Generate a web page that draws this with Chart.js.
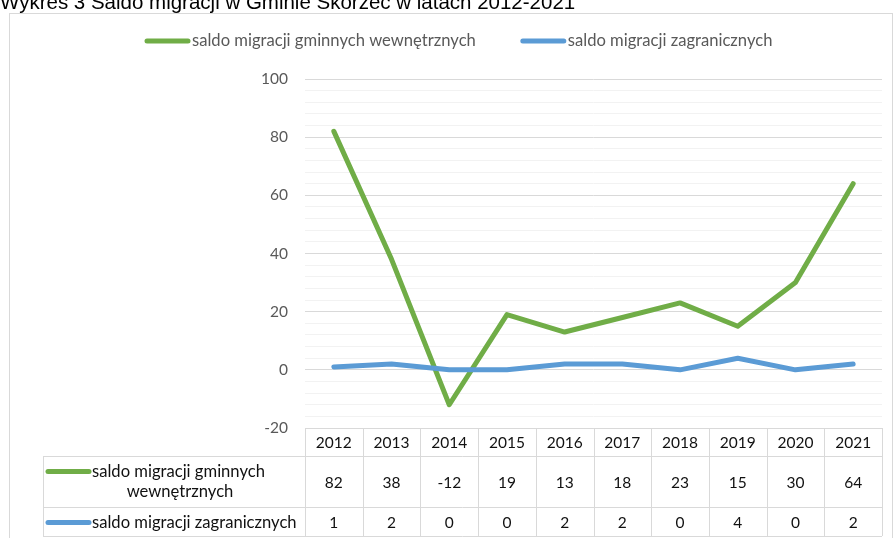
<!DOCTYPE html>
<html>
<head>
<meta charset="utf-8">
<script src="https://cdn.jsdelivr.net/npm/chart.js@4.4.0/dist/chart.umd.min.js"></script>
<style>
  html, body { margin: 0; padding: 0; background: #fff; }
  #wrap { width: 894px; height: 538px; overflow: hidden; }
</style>
</head>
<body>
<div id="wrap"><canvas id="chart" width="894" height="538"></canvas></div>
<script>
const chartTitle = 'Wykres 3 Saldo migracji w Gminie Skórzec w latach 2012-2021';
const years = ['2012', '2013', '2014', '2015', '2016', '2017', '2018', '2019', '2020', '2021'];
const seriesNames = ['saldo migracji gminnych wewnętrznych', 'saldo migracji zagranicznych'];
const rowLabels = [['saldo migracji gminnych', 'wewnętrznych'], ['saldo migracji zagranicznych']];
const gminne = [82, 38, -12, 19, 13, 18, 23, 15, 30, 64];
const zagraniczne = [1, 2, 0, 0, 2, 2, 0, 4, 0, 2];
const seriesColors = ['#70ad47', '#5b9bd5'];
const yMin = -20, yMax = 100, yMajor = 20, yMinor = 4;

const FONT = 'Lato, "Open Sans", sans-serif';

function keyLine(ctx, x, y, color) {
  ctx.save();
  ctx.strokeStyle = color;
  ctx.lineWidth = 5;
  ctx.lineCap = 'round';
  ctx.beginPath();
  ctx.moveTo(x + 2, y);
  ctx.lineTo(x + 43, y);
  ctx.stroke();
  ctx.restore();
}

const frame = {
  id: 'frame',
  beforeDraw(chart) {
    const ctx = chart.ctx;
    ctx.save();
    ctx.fillStyle = '#fff';
    ctx.fillRect(0, 0, chart.width, chart.height);
    ctx.strokeStyle = '#d9d9d9';
    ctx.lineWidth = 1;
    ctx.strokeRect(9.5, 13.5, 883, 600);
    ctx.fillStyle = '#000';
    ctx.font = '20.5px "Liberation Sans", Arial, sans-serif';
    ctx.textBaseline = 'alphabetic';
    ctx.fillText(chartTitle, 0, 9);
    ctx.restore();
  },
  afterDraw(chart) {
    const ctx = chart.ctx;
    const xs = chart.scales.x, ys = chart.scales.y;
    ctx.save();

    // legend
    ctx.font = '16.6px ' + FONT;
    ctx.fillStyle = '#595959';
    ctx.textBaseline = 'middle';
    ctx.textAlign = 'left';
    let lx = 145;
    seriesNames.forEach((name, i) => {
      keyLine(ctx, lx, 41, seriesColors[i]);
      ctx.fillText(name, lx + 47, 41);
      lx += 47 + ctx.measureText(name).width + 45;
    });

    // data table
    const colW = xs.getPixelForValue(1) - xs.getPixelForValue(0);
    const left = xs.getPixelForValue(0) - colW / 2;
    const right = left + colW * years.length;
    const top = ys.getPixelForValue(yMin);
    const rows = [top, top + 28, top + 79, top + 108];
    const labelLeft = 43;

    ctx.strokeStyle = '#d9d9d9';
    ctx.lineWidth = 1;
    ctx.beginPath();
    ctx.moveTo(left, Math.round(rows[0]) + 0.5);
    ctx.lineTo(right, Math.round(rows[0]) + 0.5);
    for (let r = 1; r < rows.length; r++) {
      ctx.moveTo(labelLeft, Math.round(rows[r]) + 0.5);
      ctx.lineTo(right, Math.round(rows[r]) + 0.5);
    }
    ctx.moveTo(labelLeft + 0.5, rows[1]);
    ctx.lineTo(labelLeft + 0.5, rows[3]);
    for (let i = 0; i <= years.length; i++) {
      const vx = Math.round(left + i * colW) + 0.5;
      ctx.moveTo(vx, rows[0]);
      ctx.lineTo(vx, rows[3]);
    }
    ctx.stroke();

    ctx.fillStyle = '#111';
    ctx.textAlign = 'center';
    ctx.font = '15.5px ' + FONT;
    const series = [gminne, zagraniczne];
    years.forEach((yr, i) => {
      const cx = xs.getPixelForValue(i);
      ctx.fillText(yr, cx, (rows[0] + rows[1]) / 2 + 1);
      series.forEach((vals, s) => {
        ctx.fillText(String(vals[i]), cx, (rows[s + 1] + rows[s + 2]) / 2 + 1);
      });
    });

    // row labels with keys
    ctx.font = '16.6px ' + FONT;
    const cellMid = (labelLeft + left) / 2;
    rowLabels.forEach((lines, s) => {
      const midY = (rows[s + 1] + rows[s + 2]) / 2;
      const firstY = lines.length > 1 ? midY - 10 : midY + 1;
      keyLine(ctx, labelLeft + 3, firstY, seriesColors[s]);
      ctx.textAlign = 'left';
      ctx.fillText(lines[0], labelLeft + 49, firstY);
      if (lines.length > 1) {
        ctx.textAlign = 'center';
        ctx.fillText(lines[1], cellMid + 6, midY + 10);
      }
    });
    ctx.restore();
  }
};

new Chart(document.getElementById('chart'), {
  type: 'line',
  data: {
    labels: years,
    datasets: [
      { label: seriesNames[0], data: gminne, borderColor: seriesColors[0], order: 2 },
      { label: seriesNames[1], data: zagraniczne, borderColor: seriesColors[1], order: 1 }
    ].map(d => Object.assign(d, {
      borderWidth: 5, pointRadius: 0, tension: 0, fill: false,
      borderCapStyle: 'round', borderJoinStyle: 'round'
    }))
  },
  options: {
    responsive: false,
    animation: false,
    layout: { padding: { top: 79, right: 12, bottom: 110, left: 0 } },
    plugins: {
      legend: { display: false },
      tooltip: { enabled: false },
      title: { display: false }
    },
    scales: {
      x: { display: false, offset: true },
      y: {
        min: yMin,
        max: yMax,
        afterFit(scale) { scale.width = 305; },
        border: { display: false },
        grid: {
          drawTicks: false,
          color: c => (c.tick.value % yMajor === 0 ? '#d9d9d9' : '#f2f2f2')
        },
        ticks: {
          stepSize: yMinor,
          autoSkip: false,
          padding: 17,
          color: '#595959',
          font: { family: FONT, size: 15.5 },
          callback: v => (v % yMajor === 0 ? v : '')
        }
      }
    }
  },
  plugins: [frame]
});
</script>
</body>
</html>
